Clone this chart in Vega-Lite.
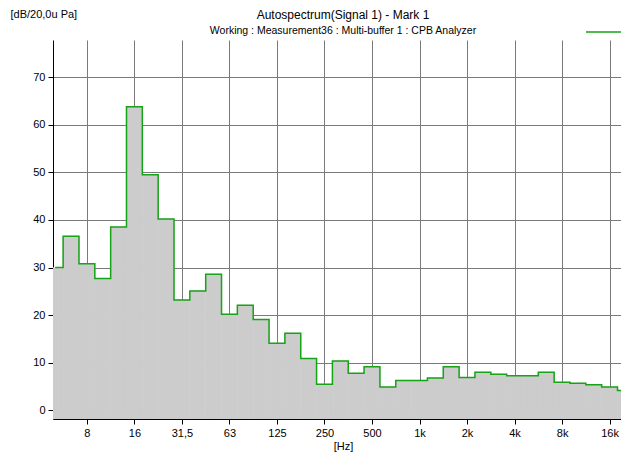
{
  "$schema": "https://vega.github.io/schema/vega-lite/v6.json",
  "width": 568,
  "height": 379,
  "autosize": {"type": "none"},
  "padding": {"left": 53, "top": 40, "right": 0, "bottom": 36},
  "background": "white",
  "config": {
    "view": {"stroke": null},
    "font": "Liberation Sans",
    "axis": {
      "domainColor": "black",
      "tickColor": "black",
      "tickSize": 5,
      "labelPadding": 3,
      "labelColor": "black",
      "labelFontSize": 11,
      "labelFont": "Liberation Sans",
      "titleFont": "Liberation Sans",
      "titleFontSize": 11,
      "titleFontWeight": "normal",
      "titleColor": "black",
      "grid": true,
      "gridColor": "#7a7a7a",
      "gridOpacity": 1,
      "gridWidth": 1
    }
  },
  "title": {
    "text": "Autospectrum(Signal 1) - Mark 1",
    "subtitle": "Working : Measurement36 : Multi-buffer 1 : CPB Analyzer",
    "font": "Liberation Sans",
    "subtitleFont": "Liberation Sans",
    "fontSize": 12,
    "subtitleFontSize": 10.5,
    "fontWeight": "normal",
    "color": "black",
    "subtitleColor": "black",
    "anchor": "middle",
    "dx": 6,
    "offset": -29,
    "subtitlePadding": 4
  },
  "data": {
    "values": [
      {"n": 7, "v": 30.0}, {"n": 8, "v": 36.6}, {"n": 9, "v": 30.8}, {"n": 10, "v": 27.7},
      {"n": 11, "v": 38.5}, {"n": 12, "v": 63.8}, {"n": 13, "v": 49.5}, {"n": 14, "v": 40.2},
      {"n": 15, "v": 23.2}, {"n": 16, "v": 25.1}, {"n": 17, "v": 28.6}, {"n": 18, "v": 20.2},
      {"n": 19, "v": 22.1}, {"n": 20, "v": 19.1}, {"n": 21, "v": 14.1}, {"n": 22, "v": 16.2},
      {"n": 23, "v": 10.9}, {"n": 24, "v": 5.5}, {"n": 25, "v": 10.4}, {"n": 26, "v": 7.8},
      {"n": 27, "v": 9.2}, {"n": 28, "v": 4.9}, {"n": 29, "v": 6.3}, {"n": 30, "v": 6.3},
      {"n": 31, "v": 6.8}, {"n": 32, "v": 9.2}, {"n": 33, "v": 6.9}, {"n": 34, "v": 8.0},
      {"n": 35, "v": 7.6}, {"n": 36, "v": 7.3}, {"n": 37, "v": 7.3}, {"n": 38, "v": 8.0},
      {"n": 39, "v": 5.9}, {"n": 40, "v": 5.7}, {"n": 41, "v": 5.4}, {"n": 42, "v": 4.9},
      {"n": 43, "v": 4.2}
    ]
  },
  "transform": [
    {"calculate": "datum.n - 0.5", "as": "lo"},
    {"calculate": "datum.n + 0.5", "as": "hi"}
  ],
  "layer": [
    {
      "mark": {"type": "bar", "color": "#cccccc", "stroke": "#cccccc", "strokeWidth": 0.6, "clip": true},
      "encoding": {
        "x": {
          "field": "lo",
          "type": "quantitative",
          "scale": {"domain": [6.86, 42.72], "nice": false, "zero": false},
          "axis": {
            "values": [9, 12, 15, 18, 21, 24, 27, 30, 33, 36, 39, 42],
            "labelExpr": "['8','16','31,5','63','125','250','500','1k','2k','4k','8k','16k'][(datum.value - 9) / 3]",
            "title": "[Hz]",
            "titleX": 290,
            "titleY": 21,
            "titleAlign": "center",
            "titleBaseline": "top",
            "labelFlush": false
          }
        },
        "x2": {"field": "hi"},
        "y": {
          "field": "v",
          "type": "quantitative",
          "scale": {"domain": [-1.8, 77.8], "nice": false, "zero": false},
          "axis": {
            "values": [0, 10, 20, 30, 40, 50, 60, 70],
            "title": "[dB/20,0u Pa]",
            "titleAngle": 0,
            "titleX": -43,
            "titleY": -26,
            "titleAlign": "left",
            "titleBaseline": "middle",
            "labelFlush": false
          }
        },
        "y2": {"datum": -1.8}
      }
    },
    {
      "mark": {"type": "line", "interpolate": "step", "clip": true, "strokeWidth": 1.5},
      "encoding": {
        "x": {"field": "n", "type": "quantitative"},
        "y": {"field": "v", "type": "quantitative"},
        "color": {
          "datum": "Signal 1",
          "scale": {"range": ["#16a316"]},
          "legend": {
            "orient": "none",
            "legendX": 532,
            "legendY": -29,
            "title": null,
            "symbolType": "stroke",
            "symbolSize": 1600,
            "symbolStrokeWidth": 1.5,
            "labelExpr": "''",
            "padding": 0
          }
        }
      }
    }
  ]
}
